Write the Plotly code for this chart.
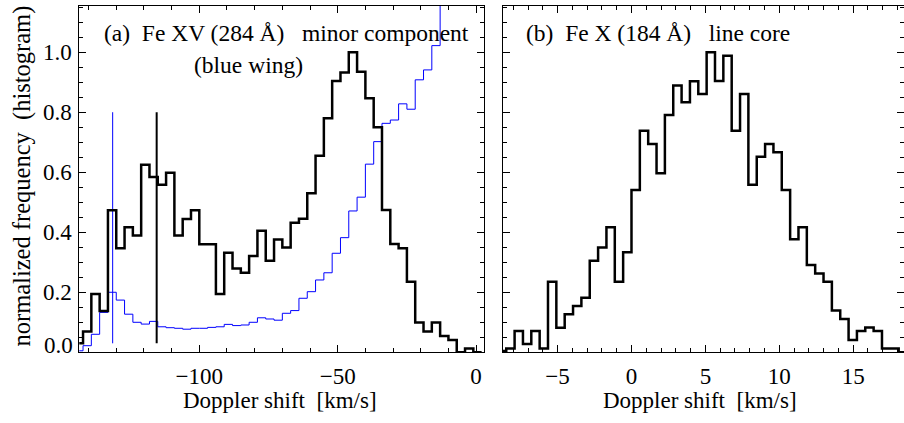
import numpy as np
import plotly.graph_objects as go

# ---------------- data ----------------
# Panel (a): Fe XV (284 Å) minor component, bins of 3 km/s starting at -145 km/s
a_bin_start = -145.0
a_bin_width = 3.0
a_black = [0.03, 0.069, 0.194, 0.138, 0.473, 0.347, 0.417, 0.389, 0.625, 0.584,
           0.558, 0.598, 0.389, 0.444, 0.473, 0.36, 0.36, 0.194, 0.332, 0.279,
           0.265, 0.321, 0.405, 0.305, 0.376, 0.349, 0.432, 0.445, 0.53, 0.655,
           0.78, 0.904, 0.932, 1.0, 0.935, 0.847, 0.75, 0.474, 0.361, 0.347,
           0.235, 0.099, 0.069, 0.099, 0.054, 0.041, 0.0, 0.013, 0.0]
a_blue = [0.005, 0.022, 0.06, 0.133, 0.2, 0.174, 0.127, 0.1, 0.094, 0.103,
          0.085, 0.082, 0.08, 0.077, 0.08, 0.08, 0.083, 0.085, 0.093, 0.089,
          0.091, 0.1, 0.115, 0.111, 0.107, 0.13, 0.139, 0.18, 0.202, 0.241,
          0.265, 0.33, 0.382, 0.471, 0.517, 0.627, 0.702, 0.763, 0.774, 0.828,
          0.81, 0.908, 0.941, 1.022, 1.2, 1.3, 1.4, 1.5, 1.6]
a_marker_blue_x = -131.3
a_marker_black_x = -115.4
a_marker_y = [0.03, 0.8]

# Panel (b): Fe X (184 Å) line core, bins of 0.565 km/s
b_bin_start = -9.04
b_bin_width = 0.565
b_black = [0.004, 0.013, 0.071, 0.028, 0.071, 0.013, 0.235, 0.082, 0.127, 0.154,
           0.182, 0.305, 0.349, 0.417, 0.235, 0.333, 0.541, 0.738, 0.694, 0.597,
           0.791, 0.889, 0.833, 0.903, 0.861, 1.0, 0.904, 0.988, 0.738, 0.861,
           0.558, 0.652, 0.694, 0.667, 0.541, 0.377, 0.417, 0.291, 0.263, 0.235,
           0.139, 0.111, 0.041, 0.071, 0.083, 0.071, 0.013, 0.013, 0.0]

y_tick_vals = [0, 0.2, 0.4, 0.6, 0.8, 1.0]
y_tick_text = ["", "0.2", "0.4", "0.6", "0.8", "1.0"]
y_zero_label = "0.0"

NB = "\u00a0"
a_title = "(a)" + NB + " Fe XV (284 Å)" + NB + NB + " minor component"
a_subtitle = "(blue wing)"
b_title = "(b)" + NB + " Fe X (184 Å)" + NB + NB + " line core"
x_title = "Doppler shift" + NB + " [km/s]"
y_title = "normalized frequency" + NB + " (histogram)"


def step_xy(start, width, vals):
    edges = start + width * np.arange(len(vals) + 1)
    return edges, list(vals) + [vals[-1]]


W, H = 904, 423
FONT = "Liberation Serif, Times New Roman, serif"
FS = 23


def px(x):
    return x / W


def py(y):
    return 1 - y / H


fig = go.Figure()

ax, ay = step_xy(a_bin_start, a_bin_width, a_blue)
fig.add_trace(go.Scatter(x=[a_marker_blue_x, a_marker_blue_x], y=a_marker_y, mode="lines",
                         line=dict(color="#0000ff", width=1), xaxis="x", yaxis="y"))
fig.add_trace(go.Scatter(x=ax, y=ay, mode="lines", line=dict(color="#0000ff", width=1, shape="hv"),
                         xaxis="x", yaxis="y"))
ax, ay = step_xy(a_bin_start, a_bin_width, a_black)
fig.add_trace(go.Scatter(x=ax, y=ay, mode="lines", line=dict(color="black", width=2.5, shape="hv"),
                         xaxis="x", yaxis="y"))
fig.add_trace(go.Scatter(x=[a_marker_black_x, a_marker_black_x], y=a_marker_y, mode="lines",
                         line=dict(color="black", width=2), xaxis="x", yaxis="y"))

bx, by = step_xy(b_bin_start, b_bin_width, b_black)
fig.add_trace(go.Scatter(x=bx, y=by, mode="lines", line=dict(color="black", width=2.5, shape="hv"),
                         xaxis="x2", yaxis="y2"))

ydom = [py(352.3), py(6)]
common = dict(showline=True, linecolor="black", linewidth=1, mirror="allticks",
              ticks="inside", ticklen=7, tickwidth=1, tickcolor="black",
              showgrid=False, zeroline=False,
              tickfont=dict(family=FONT, size=FS, color="black"))

fig.update_layout(
    width=W, height=H, autosize=False, showlegend=False,
    margin=dict(l=0, r=0, t=0, b=0, pad=0),
    paper_bgcolor="white", plot_bgcolor="white",
    xaxis=dict(domain=[px(79.3), px(484)], range=[-143.35, 2.85], anchor="y",
               tick0=0, dtick=50, ticklabelstandoff=3,
               minor=dict(dtick=10, ticklen=4, ticks="inside", tickcolor="black"), **common),
    yaxis=dict(domain=ydom, range=[0, 1.154], anchor="x",
               tickvals=y_tick_vals, ticktext=y_tick_text, ticklabelstandoff=2,
               minor=dict(dtick=0.05, ticklen=4, ticks="inside", tickcolor="black"), **common),
    xaxis2=dict(domain=[px(502.7), 1.0], range=[-8.715, 18.44], anchor="y2",
                tick0=0, dtick=5, ticklabelstandoff=3,
                minor=dict(dtick=1, ticklen=4, ticks="inside", tickcolor="black"), **common),
    yaxis2=dict(domain=ydom, range=[0, 1.154], anchor="x2", showticklabels=False,
                tickvals=y_tick_vals,
                minor=dict(dtick=0.05, ticklen=4, ticks="inside", tickcolor="black"), **common),
)

tf = dict(family=FONT, size=FS, color="black")
ttl = dict(family=FONT, size=23.5, color="black")
ann = [
    dict(text=a_title, x=px(102), y=py(33), xanchor="left", yanchor="middle", font=ttl),
    dict(text=a_subtitle, x=px(248.7), y=py(64.5), xanchor="center", yanchor="middle", font=ttl),
    dict(text=b_title, x=px(524), y=py(33), xanchor="left", yanchor="middle", font=ttl),
    dict(text=x_title, x=px(280), y=py(400.5), xanchor="center", yanchor="middle"),
    dict(text=x_title, x=px(700), y=py(400.5), xanchor="center", yanchor="middle"),
    dict(text=y_title, x=px(21), y=py(176.5), xanchor="center", yanchor="middle", textangle=-90,
         font=dict(family=FONT, size=24.5, color="black")),
    dict(text=y_zero_label, x=px(74.5), y=py(345.5), xanchor="right", yanchor="middle"),
]
for a in ann:
    a.setdefault("font", tf)
    fig.add_annotation(xref="paper", yref="paper", showarrow=False, **a)

fig.write_html("out.html",
               config={"responsive": False, "displayModeBar": False},
               post_script="document.body.style.margin='0px';document.body.style.overflow='hidden';"
                           "document.documentElement.style.overflow='hidden';")
